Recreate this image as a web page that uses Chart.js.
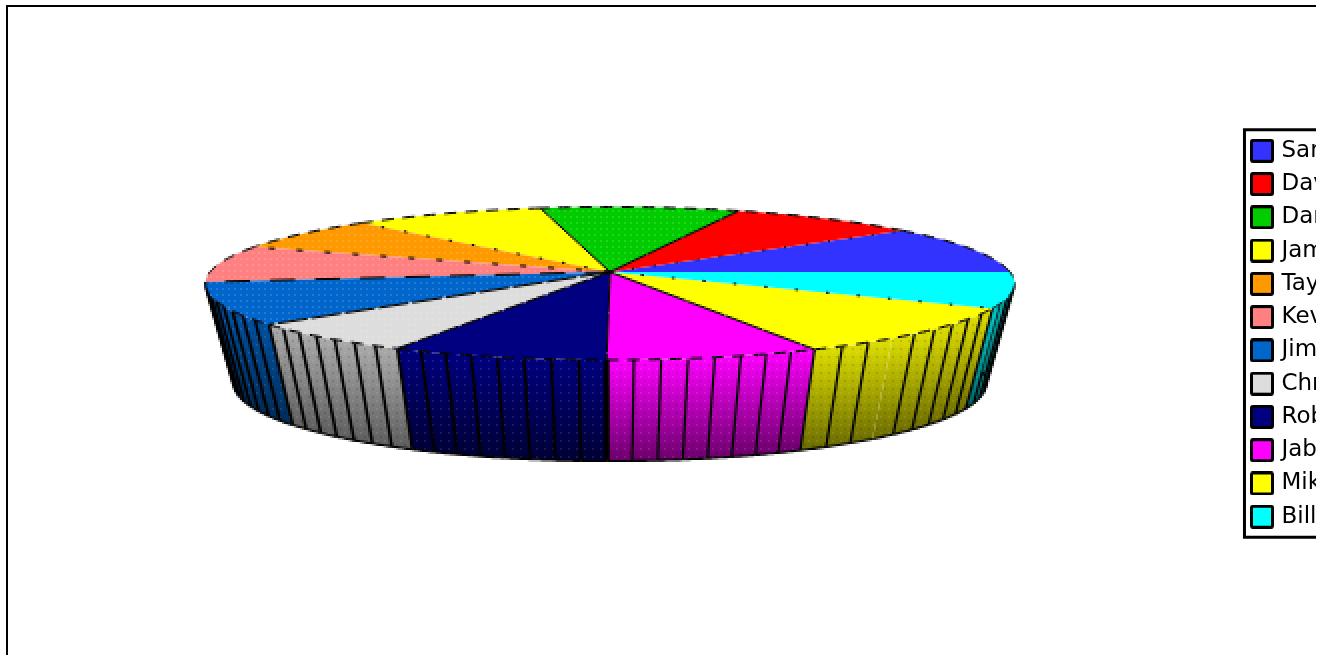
<!DOCTYPE html>
<html>
<head>
<meta charset="utf-8">
<style>
html, body { margin: 0; padding: 0; background: #fff; overflow: hidden; }
#frame { position: absolute; left: 6px; top: 5px; width: 1310px; height: 660px; border-left: 2px solid #000; border-top: 2px solid #000; box-sizing: border-box; }
canvas { position: absolute; left: 0; top: 0; }
</style>
<script src="https://cdn.jsdelivr.net/npm/chart.js@4/dist/chart.umd.js"></script>
</head>
<body>
<div id="frame"></div>
<canvas id="pie" width="1316" height="655"></canvas>
<script>
// values (share of the circle, legend order)
var names = ["Sam", "Dave", "Dan", "James", "Taylor", "Kevin", "Jim", "Chris", "Rob", "Jab", "Mike", "Bill"];
var shares = [37, 31.5, 33, 32, 26, 28, 32, 23, 27, 26.7, 36.8, 26.9];
var colors = ["#3333ff", "#ff0000", "#00cc00", "#ffff00", "#ff9900", "#ff8080", "#0066cc", "#dddddd", "#000080", "#ff00ff", "#ffff00", "#00ffff"];
// how many ribs each slice has on its wall
var ribs = [0, 0, 0, 0, 0, 0, 9, 7, 8, 8, 9, 7];

// drawing styles per slice
var edgeDash = [[0, 1], [2, 20], [40, 1], [40, 1], [3, 20], [6, 22], [25, 20], [30, 4], [20, 3], [40, 1], [40, 1], [3, 28]];
var dotted = [0, 0, 1, 0, 1, 1, 1, 1, 0, 0, 0, 0];
var wallLight = [1, 1, 1, 1, 1, 1, 0.8, 0.78, 1, 1, 0.88, 0.8];
var ribWidth = [2, 2, 2, 2, 2, 2, 3, 3, 3, 2.4, 2.4, 2.4];
var missingRib = {10: 3};

var view = {cx: 610, cy: 272, rx: 400, ry: 74.8, k: 0.15};
var floor = {cx: 610, cy: 371.6, rx: 372, ry: 76, k: 0.15};

function project(a, p) {
	var v = -Math.sin(a);
	var d = 1 - p.k * v;
	return [p.cx + p.rx * Math.cos(a) / d, p.cy + p.ry * v / d];
}

function shade(hex, f) {
	var n = parseInt(hex.slice(1), 16);
	return "rgb(" + Math.round((n >> 16) * f) + "," + Math.round(((n >> 8) & 255) * f) + "," + Math.round((n & 255) * f) + ")";
}

function dots(size, light, dark) {
	var c = document.createElement("canvas");
	c.width = c.height = size;
	var x = c.getContext("2d");
	x.fillStyle = light;
	x.fillRect(0, 0, 1, 1);
	if (dark) {
		x.fillStyle = dark;
		x.fillRect(size / 2, size / 2, 1, 1);
	}
	return c;
}
var topDots = dots(3, "rgba(255,255,255,.14)");
var wallDots = dots(4, "rgba(255,255,255,.1)", "rgba(0,0,0,.14)");

function swatch(color) {
	var c = document.createElement("canvas");
	c.width = c.height = 24;
	var x = c.getContext("2d");
	x.fillStyle = color;
	x.strokeStyle = "#000";
	x.lineWidth = 3;
	x.beginPath();
	x.roundRect(1.5, 1.5, 21, 21, 1.5);
	x.fill();
	x.stroke();
	return c;
}

// dots are one pixel of the half size painting, so the fill runs in that space
function fillDots(ctx, tile) {
	ctx.save();
	ctx.setTransform(1, 0, 0, 1, 0, 0);
	ctx.fillStyle = ctx.createPattern(tile, "repeat");
	ctx.fill();
	ctx.restore();
}

class Arc3d extends Chart.ArcElement {
	static id = "arc3d";

	draw(ctx) {
		var a0 = this.startAngle, a1 = this.endAngle;
		var n = Math.ceil((a1 - a0) * 60);
		var index = this.$context.index;
		var i, p;
		ctx.save();
		ctx.beginPath();
		ctx.moveTo(view.cx, view.cy);
		for (i = 0; i <= n; i++) {
			p = project(a0 + (a1 - a0) * i / n, view);
			ctx.lineTo(p[0], p[1]);
		}
		ctx.closePath();
		ctx.fillStyle = this.options.backgroundColor;
		ctx.fill();
		if (dotted[index]) fillDots(ctx, topDots);

		// dashed rim and the edge between slices
		ctx.strokeStyle = "#000";
		ctx.lineWidth = 2;
		ctx.setLineDash([12, 9]);
		ctx.beginPath();
		for (i = 0; i <= n; i++) {
			p = project(a0 + (a1 - a0) * i / n, view);
			if (i == 0) ctx.moveTo(p[0], p[1]); else ctx.lineTo(p[0], p[1]);
		}
		ctx.stroke();
		p = project(a0, view);
		ctx.setLineDash(edgeDash[index]);
		ctx.beginPath();
		ctx.moveTo(view.cx, view.cy);
		ctx.lineTo(p[0], p[1]);
		ctx.stroke();
		ctx.restore();
	}

	drawWall(ctx, index) {
		var count = ribs[index];
		if (!count) return;
		var a0 = this.startAngle, a1 = this.endAngle;
		var color = this.options.backgroundColor;
		ctx.save();
		for (var j = 0; j < count; j++) {
			var b0 = a0 + (a1 - a0) * j / count, b1 = a0 + (a1 - a0) * (j + 1) / count;
			var t0 = project(b0, view), t1 = project(b1, view);
			var f0 = project(b0, floor), f1 = project(b1, floor);
			var g = ctx.createLinearGradient(0, Math.min(t0[1], t1[1]), 0, Math.max(f0[1], f1[1]));
			g.addColorStop(0, shade(color, wallLight[index]));
			g.addColorStop(1, shade(color, 0.42));
			ctx.beginPath();
			ctx.moveTo(t0[0], t0[1]);
			for (var i = 1; i <= 8; i++) {
				var p = project(b0 + (b1 - b0) * i / 8, view);
				ctx.lineTo(p[0], p[1]);
			}
			for (i = 8; i >= 0; i--) {
				p = project(b0 + (b1 - b0) * i / 8, floor);
				ctx.lineTo(p[0], p[1]);
			}
			ctx.closePath();
			ctx.fillStyle = g;
			ctx.fill();
			fillDots(ctx, wallDots);
			ctx.strokeStyle = "#000";
			if (missingRib[index] !== j) {
				ctx.lineWidth = j == 0 && index == 9 ? 6 : ribWidth[index];
				ctx.beginPath();
				ctx.moveTo(t0[0], t0[1]);
				ctx.lineTo(f0[0], f0[1]);
				ctx.stroke();
			}
			ctx.lineWidth = 2.2;
			ctx.beginPath();
			ctx.moveTo(f0[0], f0[1]);
			for (i = 1; i <= 8; i++) {
				p = project(b0 + (b1 - b0) * i / 8, floor);
				ctx.lineTo(p[0], p[1]);
			}
			ctx.stroke();
		}
		ctx.restore();
	}
}

class Pie3d extends Chart.PieController {
	static id = "pie3d";
	static defaults = {dataElementType: "arc3d"};

	draw() {
		// the pie is painted at half size and blown up, the source image is coarse too
		var main = this.chart.ctx;
		var off = document.createElement("canvas");
		off.width = this.chart.width / 2;
		off.height = this.chart.height / 2;
		var ctx = off.getContext("2d");
		ctx.scale(0.5, 0.5);
		var arcs = this.getMeta().data;
		arcs.forEach(function (arc, i) { arc.drawWall(ctx, i); });
		arcs.forEach(function (arc) { arc.draw(ctx); });
		main.save();
		main.imageSmoothingEnabled = false;
		main.drawImage(off, 0, 0, off.width * 2, off.height * 2);
		main.restore();
	}
}
Chart.register(Arc3d, Pie3d);

var legendFrame = {
	id: "legendFrame",
	afterDraw: function (chart) {
		var boxes = chart.legend.legendHitBoxes;
		var first = boxes[0], last = boxes[boxes.length - 1];
		var ctx = chart.ctx;
		ctx.save();
		ctx.strokeStyle = "#000";
		ctx.lineWidth = 3;
		ctx.strokeRect(first.left - 9.5, first.top - 9.5, 200, last.top + last.height - first.top + 18.5);
		ctx.restore();
	}
};

var baseLabels = Chart.overrides.pie.plugins.legend.labels.generateLabels;

new Chart(document.getElementById("pie"), {
	type: "pie3d",
	data: {
		labels: names,
		datasets: [{data: shares, backgroundColor: colors, borderWidth: 0}]
	},
	options: {
		responsive: false,
		animation: false,
		rotation: 90,
		layout: {padding: {top: 129}},
		plugins: {
			tooltip: {enabled: false},
			legend: {
				position: "right",
				align: "start",
				maxWidth: 72.3,
				labels: {
					usePointStyle: true,
					pointStyleWidth: 16,
					boxHeight: 22,
					padding: 10.27,
					color: "#000",
					font: {family: "DejaVu Sans", size: 23},
					generateLabels: function (chart) {
						return baseLabels(chart).map(function (item, i) {
							item.pointStyle = swatch(colors[i]);
							return item;
						});
					}
				}
			}
		}
	},
	plugins: [legendFrame]
});
</script>
</body>
</html>
